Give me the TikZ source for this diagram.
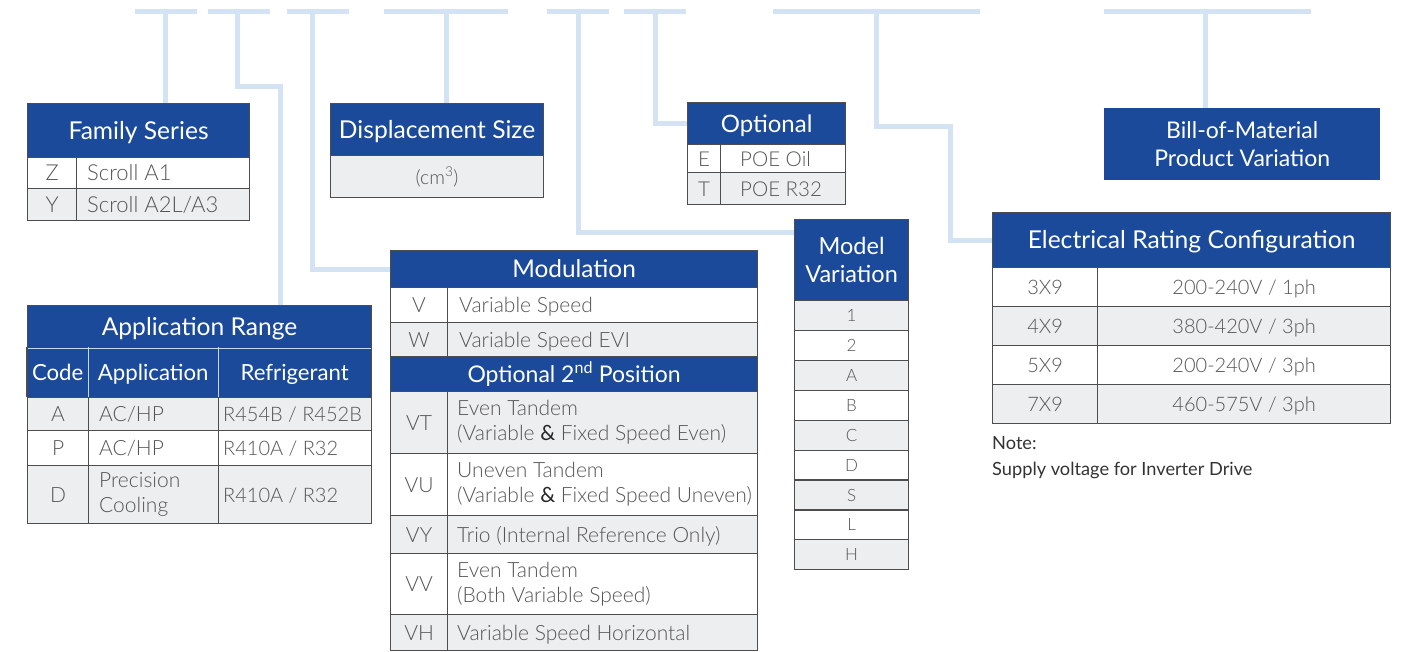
\documentclass[tikz,border=0pt]{standalone}
\usepackage{fontspec}
\usetikzlibrary{backgrounds}
\setmainfont{Lato}
\IfFontExistsTF{Lato Light}{\newfontfamily\lightfont{Lato Light}}{\newfontfamily\lightfont{Lato}}

\definecolor{hblue}{HTML}{1B4A9B}
\definecolor{rowgray}{HTML}{EDEEF0}
\definecolor{bord}{HTML}{4D4D4D}
\definecolor{txtgray}{HTML}{555555}
\definecolor{notetxt}{HTML}{333333}
\definecolor{connblue}{HTML}{D3E3F4}
\definecolor{sepblue}{HTML}{C9D7EE}

% an empty table cell: style, name, left, top, width, height
\newcommand\cellat[6]{\node[#1,minimum width=#5pt,minimum height=#6pt] (#2) at (#3,#4) {};}
\newcommand\amp{{\rmfamily\color{black!85}\&}}
\newcommand\bodysize[1]{\lightfont\fontsize{#1}{#1}\selectfont}

\begin{document}
\begin{tikzpicture}[x=1pt,y=-1pt,
  cellbase/.style={draw=bord,line width=1.2pt,inner sep=0pt,anchor=north west},
  hdr/.style={cellbase,fill=hblue},
  hdrplain/.style={fill=hblue,inner sep=0pt,anchor=north west},
  sub/.style={fill=hblue,inner sep=0pt,anchor=north west},
  rw/.style={cellbase,fill=white},
  rg/.style={cellbase,fill=rowgray},
  ht/.style={text=white,font=\fontsize{24.6}{29}\selectfont,inner sep=0pt,text height=17.6pt,text depth=0pt},
  sht/.style={text=white,font=\fontsize{22.2}{26}\selectfont,inner sep=0pt,text height=16pt,text depth=0pt},
  hml/.style={text=white,font=\fontsize{23.5}{28}\selectfont,inner sep=0pt,align=center},
  bt/.style={text=txtgray,font=\lightfont\fontsize{21}{26}\selectfont,inner sep=0pt,text height=15pt,text depth=0pt},
  mt/.style={text=txtgray,font=\lightfont\fontsize{21}{25}\selectfont,inner sep=0pt,align=left},
  st/.style={text=txtgray,font=\lightfont\fontsize{17}{20}\selectfont,inner sep=0pt,text height=12.2pt,text depth=0pt},
  nt/.style={text=notetxt,font=\fontsize{18.2}{22}\selectfont,inner sep=0pt,anchor=west},
  conn/.style={draw=connblue,line width=5pt},
  lsep/.style={draw=sepblue,line width=1.2pt},
  bline/.style={draw=bord,line width=1.2pt}]
\useasboundingbox (0,0) rectangle (1426,652);

% ---------------- Family Series ----------------
\cellat{hdr}{famH}{27}{103}{222}{54}
\node[ht] (famHt) at (famH.center) {Family Series};
\cellat{rw}{famZc}{27}{157}{49}{31}
\cellat{rw}{famZd}{76}{157}{173}{31}
\cellat{rg}{famYc}{27}{188}{49}{32}
\cellat{rg}{famYd}{76}{188}{173}{32}
\node[bt,font=\bodysize{22}] (famZct) at (famZc.center) {Z};
\node[bt,font=\bodysize{22},anchor=west] (famZdt) at ([xshift=11pt]famZd.west) {Scroll A1};
\node[bt,font=\bodysize{22}] (famYct) at (famYc.center) {Y};
\node[bt,font=\bodysize{22},anchor=west] (famYdt) at ([xshift=11pt]famYd.west) {Scroll A2L/A3};

% ---------------- Displacement Size ----------------
\cellat{hdr}{dspH}{330}{103}{213}{52}
\node[ht] (dspHt) at (dspH.center) {Displacement Size};
\cellat{rg}{dspR}{330}{155}{213}{42}
\node[bt,font=\bodysize{19.5}] (dspRt) at (dspR.center) {(cm\textsuperscript{3})};

% ---------------- Optional ----------------
\cellat{hdr}{optH}{687}{102}{158}{42}
\node[ht,font=\fontsize{24}{29}\selectfont] (optHt) at (optH.center) {Optional};
\cellat{rw}{optEc}{687}{144}{33}{28}
\cellat{rw}{optEd}{720}{144}{125}{28}
\cellat{rg}{optTc}{687}{172}{33}{32}
\cellat{rg}{optTd}{720}{172}{125}{32}
\node[bt,font=\bodysize{20.5}] (optEct) at (optEc.center) {E};
\node[bt,font=\bodysize{20.5},anchor=west] (optEdt) at ([xshift=20pt]optEd.west) {POE Oil};
\node[bt,font=\bodysize{20.5}] (optTct) at (optTc.center) {T};
\node[bt,font=\bodysize{20.5},anchor=west] (optTdt) at ([xshift=20pt]optTd.west) {POE R32};

% ---------------- Bill-of-Material ----------------
\cellat{hdrplain}{bomH}{1104}{108}{276}{72}
\node[hml,font=\fontsize{23}{28}\selectfont] (bomHt) at (bomH.center) {Bill-of-Material\\Product Variation};

% ---------------- Model Variation ----------------
\cellat{hdr}{mvH}{794}{219}{114}{81}
\node[hml] (mvHt) at (mvH.center) {Model\\Variation};
\foreach \lab/\fl [count=\i from 0] in {1/rg,2/rw,A/rg,B/rw,C/rg,D/rw,S/rg,L/rw,H/rg}{
  \cellat{\fl}{mv\i}{794}{300+29.9*\i}{114}{29.9}
  \node[st] (mvt\i) at (mv\i.center) {\lab};
}

% ---------------- Electrical Rating Configuration ----------------
\cellat{hdr}{elH}{992}{212}{398}{55}
\node[ht] (elHt) at (elH.center) {Electrical Rating Configuration};
\foreach \code/\volt/\fl [count=\i from 0] in
  {3X9/{200-240V / 1ph}/rw,4X9/{380-420V / 3ph}/rg,5X9/{200-240V / 3ph}/rw,7X9/{460-575V / 3ph}/rg}{
  \cellat{\fl}{elc\i}{992}{267+39*\i}{105}{39}
  \cellat{\fl}{elv\i}{1097}{267+39*\i}{293}{39}
  \node[bt,font=\bodysize{20}] (elct\i) at (elc\i.center) {\code};
  \node[bt,font=\bodysize{20}] (elvt\i) at (elv\i.center) {\volt};
}
\node[nt] (note1) at (992,443) {Note:};
\node[nt] (note2) at (992,470) {Supply voltage for Inverter Drive};

% ---------------- Application Range ----------------
\cellat{hdr}{appH}{27}{305}{344}{42}
\node[ht] (appHt) at (appH.center) {Application Range};
\cellat{sub}{appS1}{27}{347}{61}{50}
\cellat{sub}{appS2}{88}{347}{130}{50}
\cellat{sub}{appS3}{218}{347}{153}{50}
\draw[lsep] (appH.south west) -- (appH.south east);
\draw[lsep] (appS1.north east) -- (appS1.south east);
\draw[lsep] (appS2.north east) -- (appS2.south east);
\draw[bline] (appS1.north west) -- (appS1.south west);
\draw[bline] (appS3.north east) -- (appS3.south east);
\node[sht] (appS1t) at (appS1.center) {Code};
\node[sht] (appS2t) at (appS2.center) {Application};
\node[sht] (appS3t) at (appS3.center) {Refrigerant};
% rows
\cellat{rg}{appAc}{27}{397}{61}{33}
\cellat{rg}{appAa}{88}{397}{130}{33}
\cellat{rg}{appAr}{218}{397}{153}{33}
\cellat{rw}{appPc}{27}{430}{61}{35}
\cellat{rw}{appPa}{88}{430}{130}{35}
\cellat{rw}{appPr}{218}{430}{153}{35}
\cellat{rg}{appDc}{27}{465}{61}{58}
\cellat{rg}{appDa}{88}{465}{130}{58}
\cellat{rg}{appDr}{218}{465}{153}{58}
\node[bt] (appAct) at (appAc.center) {A};
\node[bt,anchor=west] (appAat) at ([xshift=11pt]appAa.west) {AC/HP};
\node[bt,font=\bodysize{20},anchor=west] (appArt) at ([xshift=5pt]appAr.west) {R454B / R452B};
\node[bt] (appPct) at (appPc.center) {P};
\node[bt,anchor=west] (appPat) at ([xshift=11pt]appPa.west) {AC/HP};
\node[bt,font=\bodysize{20},anchor=west] (appPrt) at ([xshift=5pt]appPr.west) {R410A / R32};
\node[bt] (appDct) at (appDc.center) {D};
\node[mt,anchor=west] (appDat) at ([xshift=11pt]appDa.west) {Precision\\Cooling};
\node[bt,font=\bodysize{20},anchor=west] (appDrt) at ([xshift=5pt]appDr.west) {R410A / R32};

% ---------------- Modulation ----------------
\cellat{hdr}{modH}{390}{250}{367}{37}
\node[ht,font=\fontsize{24.4}{29}\selectfont] (modHt) at (modH.center) {Modulation};
\cellat{rw}{modVc}{390}{287}{57}{35}
\cellat{rw}{modVd}{447}{287}{310}{35}
\cellat{rg}{modWc}{390}{322}{57}{34}
\cellat{rg}{modWd}{447}{322}{310}{34}
\cellat{hdr}{modH2}{390}{356}{367}{35}
\node[ht,font=\fontsize{23}{28}\selectfont] (modH2t) at (modH2.center) {Optional 2\textsuperscript{nd} Position};
\cellat{rg}{modVTc}{390}{391}{57}{62}
\cellat{rg}{modVTd}{447}{391}{310}{62}
\cellat{rw}{modVUc}{390}{453}{57}{62}
\cellat{rw}{modVUd}{447}{453}{310}{62}
\cellat{rg}{modVYc}{390}{515}{57}{38}
\cellat{rg}{modVYd}{447}{515}{310}{38}
\cellat{rw}{modVVc}{390}{553}{57}{61}
\cellat{rw}{modVVd}{447}{553}{310}{61}
\cellat{rg}{modVHc}{390}{614}{57}{36}
\cellat{rg}{modVHd}{447}{614}{310}{36}
\node[bt] (modVct) at (modVc.center) {V};
\node[bt,anchor=west] (modVdt) at ([xshift=12pt]modVd.west) {Variable Speed};
\node[bt] (modWct) at (modWc.center) {W};
\node[bt,anchor=west] (modWdt) at ([xshift=12pt]modWd.west) {Variable Speed EVI};
\node[bt] (modVTct) at (modVTc.center) {VT};
\node[mt,anchor=west] (modVTdt) at ([xshift=10pt]modVTd.west) {Even Tandem\\(Variable \amp{} Fixed Speed Even)};
\node[bt] (modVUct) at (modVUc.center) {VU};
\node[mt,anchor=west] (modVUdt) at ([xshift=10pt]modVUd.west) {Uneven Tandem\\(Variable \amp{} Fixed Speed Uneven)};
\node[bt] (modVYct) at (modVYc.center) {VY};
\node[bt,anchor=west] (modVYdt) at ([xshift=10pt]modVYd.west) {Trio (Internal Reference Only)};
\node[bt] (modVVct) at (modVVc.center) {VV};
\node[mt,anchor=west] (modVVdt) at ([xshift=10pt]modVVd.west) {Even Tandem\\(Both Variable Speed)};
\node[bt] (modVHct) at (modVHc.center) {VH};
\node[bt,anchor=west] (modVHdt) at ([xshift=10pt]modVHd.west) {Variable Speed Horizontal};

% ---------------- code-position brackets and leader lines ----------------
\coordinate (b1l) at (135,12); \coordinate (b1r) at (197,12); \coordinate (t1) at (165,12);
\coordinate (b2l) at (208,12); \coordinate (b2r) at (270,12); \coordinate (t2) at (237,12);
\coordinate (b3l) at (287,12); \coordinate (b3r) at (349,12); \coordinate (t3) at (312,12);
\coordinate (b4l) at (384,12); \coordinate (b4r) at (508,12); \coordinate (t4) at (446,12);
\coordinate (b5l) at (547,12); \coordinate (b5r) at (609,12); \coordinate (t5) at (578,12);
\coordinate (b6l) at (624,12); \coordinate (b6r) at (686,12); \coordinate (t6) at (655,12);
\coordinate (b7l) at (773,12); \coordinate (b7r) at (980,12); \coordinate (t7) at (876,12);
\coordinate (b8l) at (1104,12); \coordinate (b8r) at (1311,12); \coordinate (t8) at (1205,12);
\coordinate (k2) at (280,87);
\coordinate (k5) at (mvH.west |- 0,233);
\coordinate (k7) at (950,127);

\begin{scope}[on background layer]
  \foreach \b in {1,...,8}{\draw[conn] (b\b l) -- (b\b r);}
  \draw[conn] (t1) -- (t1 |- famH.north);
  \draw[conn] (t2) |- (k2) -- (k2 |- appH.north);
  \draw[conn] (t3) |- (modH.west);
  \draw[conn] (t4) -- (t4 |- dspH.north);
  \draw[conn] (t5) |- (k5);
  \draw[conn] (t6) |- (optH.west);
  \draw[conn] (t7) |- (k7) |- (elH.west);
  \draw[conn] (t8) -- (t8 |- bomH.north);
\end{scope}
\end{tikzpicture}
\end{document}
